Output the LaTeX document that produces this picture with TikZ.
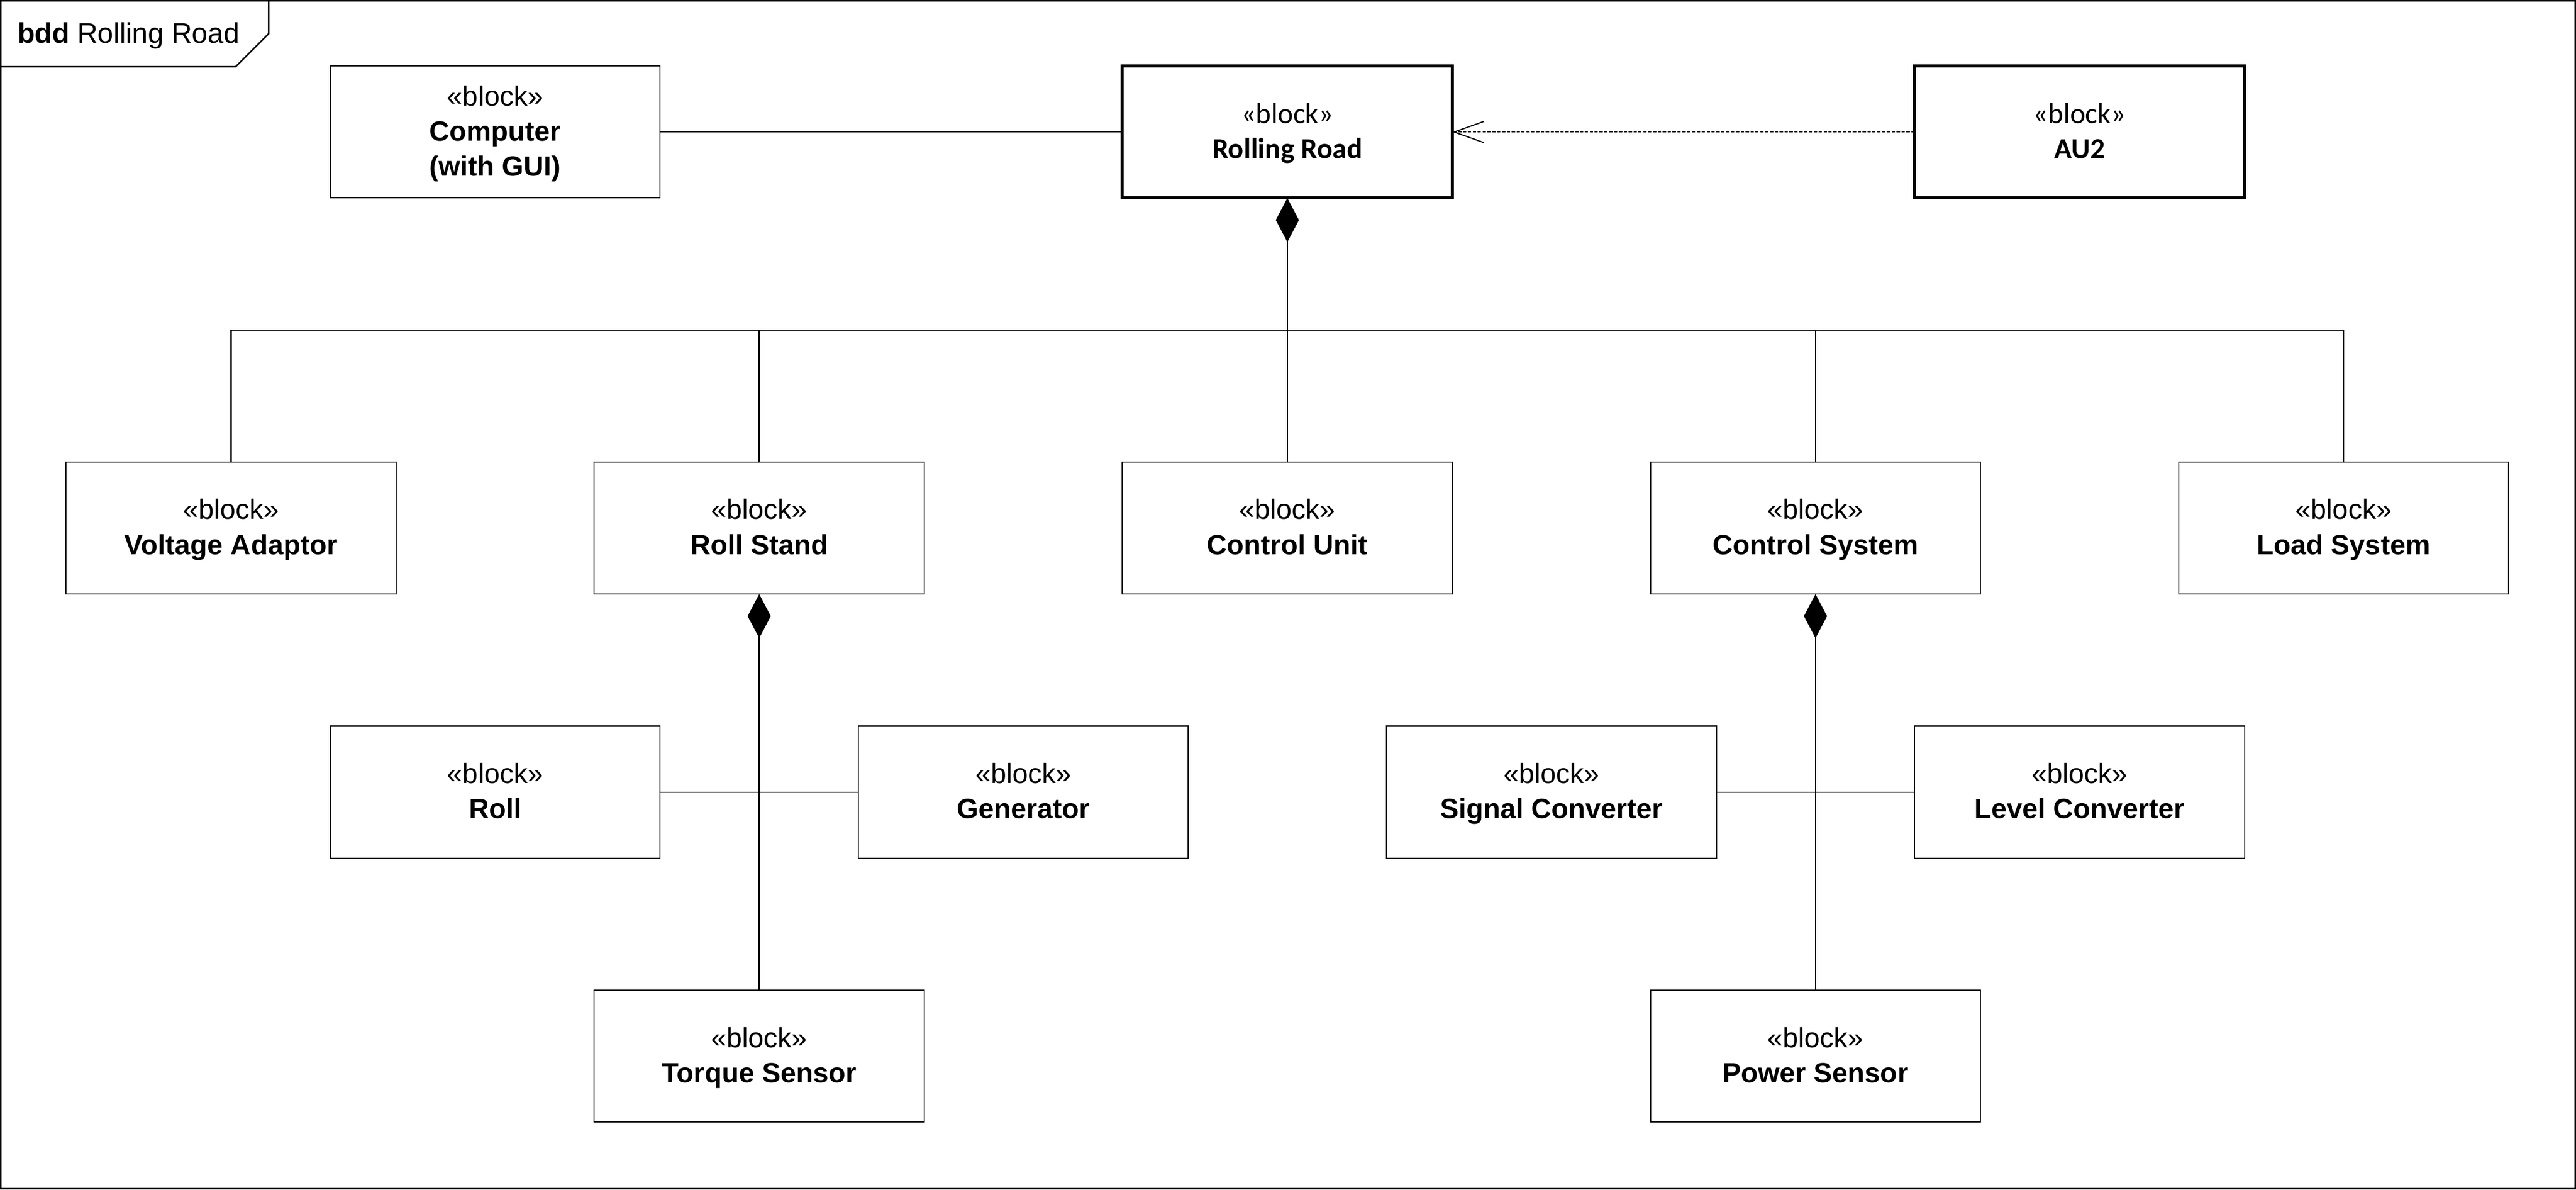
\documentclass[tikz,border=0pt]{standalone}
\usepackage{fontspec}
\setmainfont{Liberation Sans}
\newfontfamily\calfont{Carlito}
\usetikzlibrary{arrows.meta}
% fixed top and bottom struts, so that every block sets its lines at the same place
\newcommand{\topst}{\rule{0pt}{11.3pt}}
\newcommand{\botst}{\rule[-3.8pt]{0pt}{3.8pt}}

\begin{document}
\begin{tikzpicture}[
  blk/.style={draw, line width=0.47pt, minimum width=5cm, minimum height=2cm, inner sep=0pt, outer sep=0pt, align=center, font=\fontsize{12}{15.1}\selectfont},
  mainblk/.style={blk, line width=1.3pt, font=\calfont\fontsize{12.5}{15.1}\selectfont},
  link/.style={line width=0.5pt},
  compo/.style={link, {Diamond[length=0.667cm,width=0.35cm]}-},
  depend/.style={link, dash pattern=on 1.4pt off 0.7pt, -{Straight Barb[length=0.45cm,width=0.32cm]}}
]
\useasboundingbox (0,0) rectangle (39.02,-18.02);
% frame
\draw[line width=0.6pt] (0.01,-0.01) rectangle (39.01,-18.01);
\draw[line width=0.6pt] (0,-1.01) -- (3.57,-1.01) -- (4.07,-0.51) -- (4.07,0);
\node[anchor=base west, inner sep=0pt, font=\fontsize{12.2}{14}\selectfont] (title) at (0.26,-0.65) {\textbf{bdd} Rolling Road};

% top row
\node[blk] (comp) at (7.5,-2) {\topst«block»\\\textbf{Computer}\\\textbf{(with GUI)}\botst};
\node[mainblk] (rr) at (19.5,-2) {\topst«block»\\\textbf{Rolling Road}\botst};
\node[mainblk] (au2) at (31.5,-2) {\topst«block»\\\textbf{AU2}\botst};
\draw[link] (comp) -- (rr);
\draw[depend] (au2) -- (rr);

% parts of the rolling road
\node[blk] (va) at (3.5,-8) {\topst«block»\\\textbf{Voltage Adaptor}\botst};
\node[blk] (rs) at (11.5,-8) {\topst«block»\\\textbf{Roll Stand}\botst};
\node[blk] (cu) at (19.5,-8) {\topst«block»\\\textbf{Control Unit}\botst};
\node[blk] (cs) at (27.5,-8) {\topst«block»\\\textbf{Control System}\botst};
\node[blk] (ls) at (35.5,-8) {\topst«block»\\\textbf{Load System}\botst};
\coordinate (bus) at (19.5,-5);
\draw[compo] (rr.south) -- (bus);
\draw[link] (va.north) |- (bus);
\draw[link] (rs.north) |- (bus);
\draw[link] (cu.north) -- (bus);
\draw[link] (cs.north) |- (bus);
\draw[link] (ls.north) |- (bus);

% roll stand
\node[blk] (roll) at (7.5,-12) {\topst«block»\\\textbf{Roll}\botst};
\node[blk] (gen) at (15.5,-12) {\topst«block»\\\textbf{Generator}\botst};
\node[blk] (ts) at (11.5,-16) {\topst«block»\\\textbf{Torque Sensor}\botst};
\draw[compo] (rs.south) -- (ts.north);
\draw[link] (roll) -- (gen);

% control system
\node[blk] (sc) at (23.5,-12) {\topst«block»\\\textbf{Signal Converter}\botst};
\node[blk] (lc) at (31.5,-12) {\topst«block»\\\textbf{Level Converter}\botst};
\node[blk] (ps) at (27.5,-16) {\topst«block»\\\textbf{Power Sensor}\botst};
\draw[compo] (cs.south) -- (ps.north);
\draw[link] (sc) -- (lc);
\end{tikzpicture}
\end{document}
